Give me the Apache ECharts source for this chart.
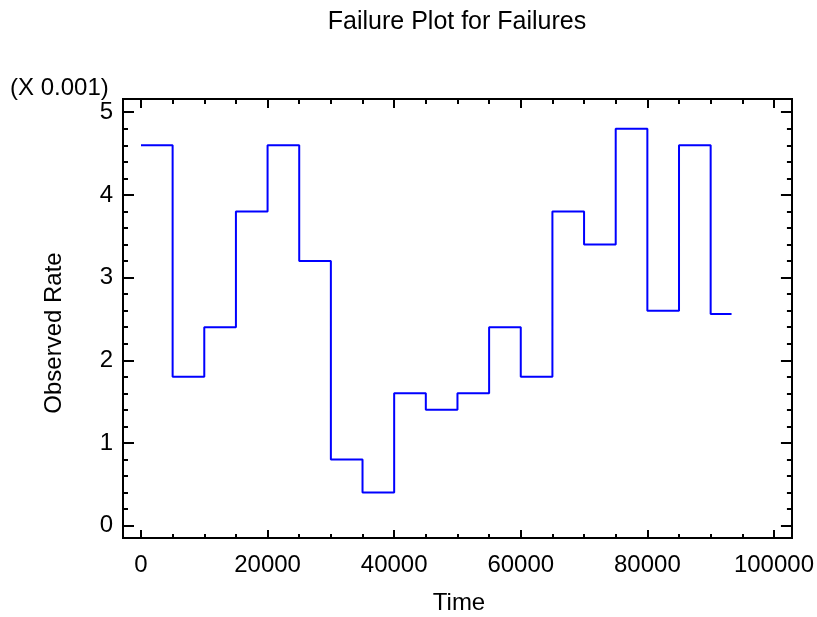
<!DOCTYPE html>
<html>
<head>
<meta charset="utf-8">
<script src="https://cdn.jsdelivr.net/npm/echarts@6/dist/echarts.min.js"></script>
<style>html,body{margin:0;padding:0;background:#fff}#c{width:817px;height:617px}</style>
</head>
<body>
<div id="c"></div>
<script>
// Data (observed rate shown in units of 0.001)
const intervalStart = [0,5000,10000,15000,20000,25000,30000,35000,40000,45000,50000,55000,60000,65000,70000,75000,80000,85000,90000];
const observedRate = [4.6,1.8,2.4,3.8,4.6,3.2,0.8,0.4,1.6,1.4,1.6,2.4,1.8,3.8,3.4,4.8,2.6,4.6,2.56];
const endTime = 93300;
const xTickValues = [0,20000,40000,60000,80000,100000];
const yTickValues = [0,1,2,3,4,5];
const xMinorStep = 5000;
const yMinorStep = 0.2;

const xMin = -2840, xMax = 102840;
const yMin = -0.15, yMax = 5.16;
const FONT = '"Liberation Sans", Arial, sans-serif';

const xMinor = [];
for (let v = 0; v <= 100000; v += xMinorStep) if (xTickValues.indexOf(v) < 0) xMinor.push(v);
const yMinor = [];
for (let k = 0; k <= 25; k++) { const v = +(k * yMinorStep).toFixed(2); if (yTickValues.indexOf(v) < 0) yMinor.push(v); }

const stepData = intervalStart.map((t, i) => [t, observedRate[i]]);
stepData.push([endTime, observedRate[observedRate.length - 1]]);

const lineStyle = { color: '#000', width: 2 };
function xAxisDef(pos, ticks, len, labels) {
  return {
    type: 'value', position: pos, min: xMin, max: xMax,
    axisLine: { show: true, onZero: false, lineStyle: lineStyle },
    axisTick: { show: true, inside: true, length: len, customValues: ticks, lineStyle: lineStyle },
    axisLabel: labels ? { show: true, customValues: ticks, margin: 27, verticalAlign: 'middle',
      color: '#000', fontSize: 24, fontFamily: FONT, formatter: v => String(Math.round(v)) } : { show: false },
    splitLine: { show: false }
  };
}
function yAxisDef(pos, ticks, len, labels) {
  return {
    type: 'value', position: pos, min: yMin, max: yMax,
    axisLine: { show: true, onZero: false, lineStyle: lineStyle },
    axisTick: { show: true, inside: true, length: len, customValues: ticks, lineStyle: lineStyle },
    axisLabel: labels ? { show: true, customValues: ticks, margin: 10,
      color: '#000', fontSize: 24, fontFamily: FONT, formatter: v => String(Math.round(v)) } : { show: false },
    splitLine: { show: false }
  };
}

const chart = echarts.init(document.getElementById('c'), null, { renderer: 'canvas' });
chart.setOption({
  animation: false,
  backgroundColor: '#fff',
  grid: { left: 123, top: 99, width: 670, height: 439, containLabel: false },
  xAxis: [
    xAxisDef('bottom', xTickValues, 8, true),
    xAxisDef('bottom', xMinor, 4, false),
    xAxisDef('top', xTickValues, 9, false),
    xAxisDef('top', xMinor, 5, false)
  ],
  yAxis: [
    yAxisDef('left', yTickValues, 11, true),
    yAxisDef('left', yMinor, 5, false),
    yAxisDef('right', yTickValues, 11, false),
    yAxisDef('right', yMinor, 5, false)
  ],
  series: [{
    type: 'line', xAxisIndex: 0, yAxisIndex: 0, step: 'end', symbol: 'none',
    data: stepData, lineStyle: { color: '#0000ff', width: 2 }
  }],
  graphic: [
    { type: 'text', x: 457, y: 22, style: { text: 'Failure Plot for Failures', fill: '#000',
      font: '25px ' + FONT, textAlign: 'center', textVerticalAlign: 'middle' } },
    { type: 'text', x: 10, y: 88, style: { text: '(X 0.001)', fill: '#000',
      font: '24px ' + FONT, textAlign: 'left', textVerticalAlign: 'middle' } },
    { type: 'text', x: 54, y: 333, rotation: Math.PI / 2, style: { text: 'Observed Rate', fill: '#000',
      font: '24px ' + FONT, textAlign: 'center', textVerticalAlign: 'middle' } },
    { type: 'text', x: 459, y: 603, style: { text: 'Time', fill: '#000',
      font: '24px ' + FONT, textAlign: 'center', textVerticalAlign: 'middle' } }
  ]
});
</script>
</body>
</html>
